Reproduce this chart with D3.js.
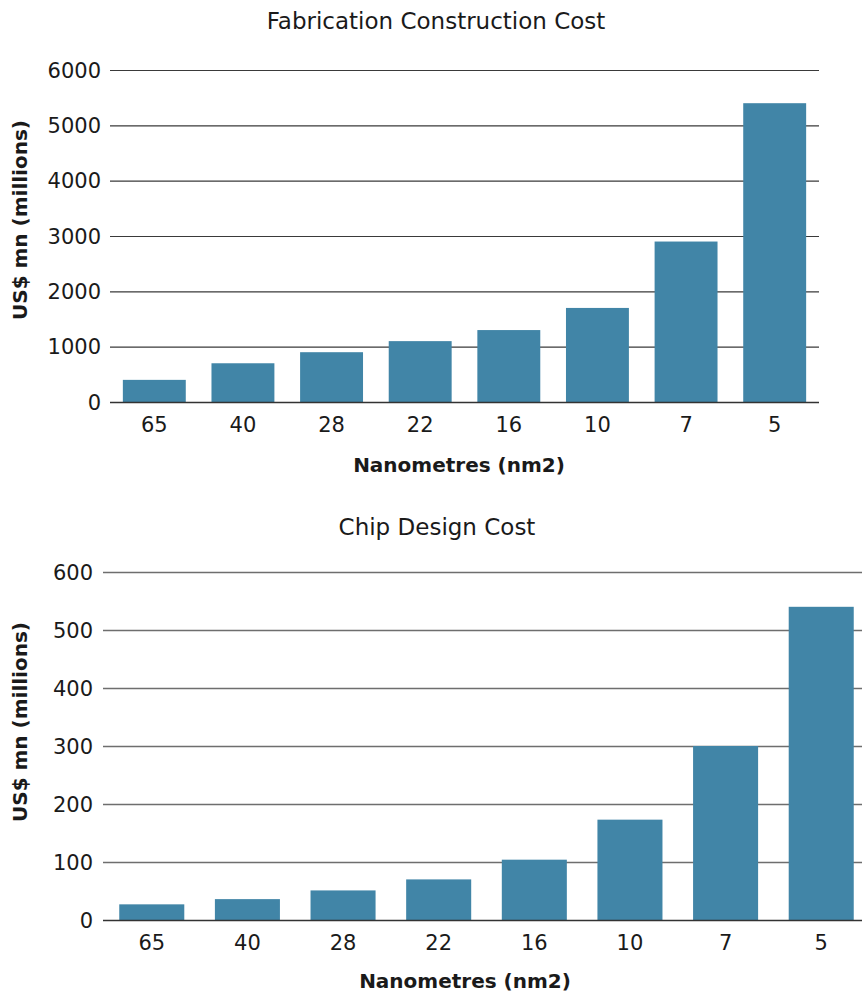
<!DOCTYPE html>
<html><head><meta charset="utf-8">
<script src="https://cdn.jsdelivr.net/npm/d3@7"></script>
<style>
html,body{margin:0;padding:0;background:#fff;}
text{font-family:"DejaVu Sans",sans-serif;fill:#1a1a1a;}
</style></head>
<body>
<svg id="c" width="862" height="993"></svg>
<script>
const categories = ["65","40","28","22","16","10","7","5"];
const fabCost = [400, 700, 900, 1100, 1300, 1700, 2900, 5400];
const designCost = [27, 36, 51, 70, 104, 173, 300, 540];
const fabTicks = [0,1000,2000,3000,4000,5000,6000];
const designTicks = [0,100,200,300,400,500,600];
const titles = ["Fabrication Construction Cost","Chip Design Cost"];
const xTitle = "Nanometres (nm2)";
const yTitle = "US$ mn (millions)";

const svg = d3.select("#c");
const barColor = "#4185a7";

function drawChart(cfg){
  const g = svg.append("g");
  const x = d3.scaleBand().domain(categories).range([cfg.x0, cfg.x1]).paddingInner(cfg.pi).paddingOuter(cfg.po);
  const y = d3.scaleLinear().domain([0, d3.max(cfg.ticks)]).range([cfg.y0, cfg.y1]);
  const grid = g.append("g");
  grid.selectAll("line").data(cfg.ticks.filter(t=>t>0)).join("line")
    .attr("x1",cfg.gx0).attr("x2",cfg.gx1).attr("y1",d=>y(d)+0.5).attr("y2",d=>y(d)+0.5)
    .attr("stroke",cfg.gridColor).attr("stroke-width",cfg.gridW);
  g.selectAll("rect.bar").data(cfg.values).join("rect").attr("class","bar")
    .attr("x",(d,i)=>x(categories[i])).attr("width",x.bandwidth())
    .attr("y",d=>y(d)).attr("height",d=>y(0)-y(d)).attr("fill",barColor);
  g.append("line").attr("x1",cfg.gx0).attr("x2",cfg.gx1).attr("y1",y(0)+0.5).attr("y2",y(0)+0.5)
    .attr("stroke","#333").attr("stroke-width",1.5);
  g.selectAll("text.yt").data(cfg.ticks).join("text").attr("class","yt")
    .attr("x",cfg.ylabX).attr("y",d=>y(d)).attr("dy","0.36em").attr("text-anchor","end")
    .style("font-size","21px").text(d=>d);
  g.selectAll("text.xt").data(categories).join("text").attr("class","xt")
    .attr("x",d=>x(d)+x.bandwidth()/2).attr("y",cfg.xlabY).attr("text-anchor","middle")
    .style("font-size","21px").text(d=>d);
  g.append("text").attr("x",cfg.titleX).attr("y",cfg.titleY).attr("text-anchor","middle")
    .style("font-size","23px").text(cfg.title);
  g.append("text").attr("x",cfg.xtX).attr("y",cfg.xtY).attr("text-anchor","middle")
    .style("font-size","20px").style("font-weight","bold").text(xTitle);
  g.append("text").attr("transform",`translate(${cfg.ytX},${cfg.ytY}) rotate(-90)`)
    .attr("text-anchor","middle").style("font-size","20px").style("font-weight","bold").text(yTitle);
}

drawChart({values:fabCost, ticks:fabTicks, title:titles[0],
  x0:110, x1:819, pi:0.29, po:0.145, y0:402, y1:70, gx0:110, gx1:819,
  gridColor:"#3a3a3a", gridW:1.2, ylabX:101, xlabY:432,
  titleX:436, titleY:29, xtX:459, xtY:472, ytX:27, ytY:220});

drawChart({values:designCost, ticks:designTicks, title:titles[1],
  x0:103, x1:870, pi:0.32, po:0.17, y0:920, y1:572, gx0:103, gx1:862,
  gridColor:"#6e6e6e", gridW:1.5, ylabX:93, xlabY:950,
  titleX:437, titleY:535, xtX:465, xtY:988, ytX:27, ytY:722});
</script>
</body></html>
